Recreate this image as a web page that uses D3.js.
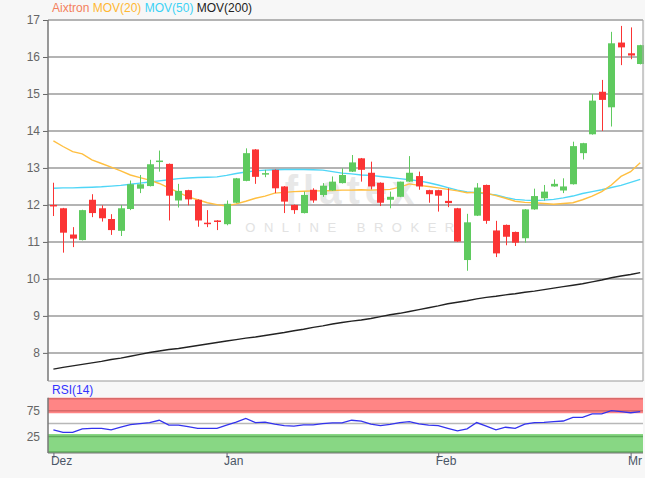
<!DOCTYPE html>
<html><head><meta charset="utf-8">
<script src="https://cdn.jsdelivr.net/npm/d3@7"></script>
<style>
html,body{margin:0;padding:0;background:#f7f7f7;}
svg{display:block;font-family:"Liberation Sans",Arial,sans-serif;}
</style></head>
<body><svg id="c" width="645" height="478"></svg>
<script>
// ---- data ----
const openV  = [12.00,11.91,11.20,11.05,12.14,11.91,11.62,11.30,11.89,12.44,12.51,13.17,13.11,12.12,12.40,12.14,11.52,11.58,11.48,12.06,12.65,13.50,12.83,12.95,12.50,12.00,11.78,12.41,12.27,12.39,12.59,12.90,13.26,12.87,12.60,12.14,12.22,12.63,12.78,12.40,12.40,12.11,11.91,10.51,11.71,12.54,11.31,11.46,11.27,11.10,11.88,12.18,12.50,12.39,12.56,13.40,13.91,15.06,14.64,16.39,16.10,15.81];
const highV  = [12.60,11.92,11.40,11.87,12.29,11.99,11.75,12.00,12.66,12.81,13.22,13.47,13.12,12.57,12.41,12.15,11.86,11.59,12.12,12.73,13.53,13.51,12.95,12.96,12.51,12.01,12.36,12.45,12.59,12.77,12.99,13.35,13.27,13.17,12.61,12.36,12.63,13.32,12.90,12.41,12.41,12.45,11.92,11.76,12.59,12.55,11.57,11.47,11.28,11.89,12.44,12.54,12.69,12.72,13.71,13.68,15.00,15.38,16.68,16.84,16.80,16.33];
const lowV   = [11.70,10.71,10.86,11.04,11.67,11.55,11.19,11.16,11.86,12.32,12.50,12.90,11.58,11.93,11.99,11.41,11.40,11.32,11.45,12.05,12.64,12.57,12.75,12.32,11.78,11.76,11.77,12.06,12.22,12.38,12.58,12.89,12.63,12.42,11.97,11.91,12.21,12.62,12.41,12.06,11.82,11.94,11.00,10.22,11.70,11.49,10.59,10.91,10.89,10.98,11.87,12.12,12.49,12.32,12.55,13.23,13.90,14.00,14.12,15.78,15.94,15.80];
const closeV = [11.98,11.25,11.09,11.86,11.78,11.64,11.32,11.91,12.56,12.56,13.10,13.20,12.25,12.38,12.15,11.58,11.48,11.55,12.03,12.72,13.40,12.76,12.86,12.45,12.09,11.86,12.27,12.12,12.52,12.63,12.81,13.15,12.95,12.50,12.06,12.22,12.63,12.87,12.50,12.29,12.25,12.05,11.01,11.53,12.47,11.57,10.69,11.14,10.98,11.88,12.24,12.36,12.57,12.50,13.59,13.67,14.82,14.84,16.37,16.26,16.04,16.32];
const mov20  = [13.73,13.58,13.44,13.38,13.22,13.12,13.02,12.92,12.81,12.74,12.67,12.58,12.46,12.34,12.22,12.14,12.06,12.01,11.97,12.03,12.10,12.18,12.24,12.32,12.34,12.36,12.37,12.38,12.38,12.39,12.40,12.40,12.41,12.40,12.41,12.42,12.48,12.57,12.53,12.50,12.46,12.42,12.38,12.33,12.34,12.32,12.25,12.18,12.10,12.07,12.06,12.04,12.02,12.04,12.06,12.14,12.24,12.36,12.54,12.77,12.90,13.14];
const mov50  = [12.45,12.46,12.46,12.47,12.48,12.49,12.51,12.53,12.56,12.59,12.62,12.65,12.68,12.71,12.73,12.74,12.75,12.76,12.80,12.85,12.89,12.92,12.94,12.95,12.96,12.96,12.96,12.95,12.94,12.90,12.86,12.84,12.81,12.80,12.77,12.74,12.71,12.68,12.65,12.60,12.54,12.47,12.40,12.35,12.33,12.30,12.27,12.20,12.15,12.13,12.12,12.13,12.15,12.19,12.24,12.31,12.36,12.41,12.47,12.53,12.61,12.69];
const mov200 = [7.56,7.61,7.65,7.69,7.73,7.77,7.82,7.86,7.91,7.96,8.01,8.05,8.09,8.12,8.16,8.20,8.24,8.28,8.32,8.36,8.40,8.43,8.47,8.51,8.55,8.60,8.64,8.69,8.73,8.78,8.82,8.86,8.89,8.93,8.98,9.03,9.07,9.12,9.17,9.22,9.27,9.33,9.37,9.41,9.46,9.50,9.53,9.57,9.60,9.64,9.67,9.71,9.75,9.79,9.83,9.87,9.92,9.97,10.03,10.08,10.12,10.17];
const rsi14  = [37.9,33,33,40,41,41,38,43,48,50,52,56.5,47,47,44,41,41,41,47,53,60,52,53,49,46,45,47.5,47.5,50,51.6,51.6,56.5,55,49,46,48.5,52,54,49.5,47,46,41,36,40,52,45,38,43,41,49,52,52.3,54,55,62,62,68.6,68.6,75,73,71,73];
const monthLabels = ["Dez","Jan","Feb","Mr"];
const monthIndex  = [0,18,40,60];
const yTicks = [8,9,10,11,12,13,14,15,16,17];
const rsiTicks = [25,75];

// ---- layout ----
const svg = d3.select("#c");
const L = 48, R = 643, T = 20, B = 381;
const rT = 397.7, rB = 453;
const n = closeV.length;
const idx = d3.range(n);

const x = d3.scaleBand().domain(idx).range([L + 0.6, L + 0.6 + n * 9.62]).paddingInner(0.27).paddingOuter(0.135);
const cx = i => x(i) + x.bandwidth() / 2;
const y = d3.scaleLinear().domain([7.24, 17]).range([B, T]);
const yr = d3.scaleLinear().domain([-6.7, 100]).range([rB, rT]);

// main plot background
svg.append("rect").attr("x", L).attr("y", T).attr("width", R - L).attr("height", B - T).attr("fill", "#fff");

svg.append("defs").append("clipPath").attr("id", "clipMain")
  .append("rect").attr("x", L).attr("y", T - 1).attr("width", R - L + 2).attr("height", B - T + 1);

// grid lines
svg.append("g").selectAll("line").data(yTicks).join("line")
  .attr("x1", L).attr("x2", R).attr("y1", d => y(d)).attr("y2", d => y(d))
  .attr("stroke", "#b4b4b4").attr("stroke-width", 2);

// y axis
const yAxis = d3.axisLeft(y).tickValues(yTicks).tickSize(5).tickPadding(3);
const ga = svg.append("g").attr("transform", `translate(${L},0)`).call(yAxis);
ga.select(".domain").remove();
ga.selectAll("line").attr("stroke", "#666");
ga.selectAll("text").attr("fill", "#666").attr("font-size", 12).attr("font-family", "Liberation Sans, Arial, sans-serif");

// watermark
const wm = svg.append("g");
wm.append("text").attr("x", 352).attr("y", 204).attr("text-anchor", "middle")
  .attr("font-size", 40).attr("font-weight", "bold").attr("fill", "#e8e8e8").attr("letter-spacing", 5).text("flatex");
wm.append("text").attr("x", 354).attr("y", 232).attr("text-anchor", "middle")
  .attr("font-size", 13).attr("fill", "#e2e2e2").attr("letter-spacing", 8.5).text("ONLINE BROKER");

const plot = svg.append("g").attr("clip-path", "url(#clipMain)");

// moving averages
const line = arr => d3.line().x((d, i) => cx(i)).y(d => y(d)).curve(d3.curveLinear)(arr);
plot.append("path").attr("d", line(mov200)).attr("fill", "none").attr("stroke", "#222").attr("stroke-width", 1.4);
plot.append("path").attr("d", line(mov50)).attr("fill", "none").attr("stroke", "#4fd6f7").attr("stroke-width", 1.4);
plot.append("path").attr("d", line(mov20)).attr("fill", "none").attr("stroke", "#ffbf40").attr("stroke-width", 1.4);

// candles
const up = i => closeV[i] >= openV[i];
const colUp = "#5fca5f", colDn = "#fb3434";
const cg = plot.append("g");
cg.selectAll("line").data(idx).join("line")
  .attr("x1", i => Math.round(cx(i)) + 0.5).attr("x2", i => Math.round(cx(i)) + 0.5)
  .attr("y1", i => y(highV[i])).attr("y2", i => y(lowV[i]))
  .attr("stroke", i => up(i) ? colUp : colDn).attr("stroke-width", 1);
cg.selectAll("rect").data(idx).join("rect")
  .attr("x", i => Math.round(cx(i)) + 0.5 - 3.5).attr("width", 7)
  .attr("y", i => y(Math.max(openV[i], closeV[i])))
  .attr("height", i => Math.max(1.5, Math.abs(y(openV[i]) - y(closeV[i]))))
  .attr("fill", i => up(i) ? colUp : colDn);

// frame of main plot
svg.append("line").attr("x1", L).attr("x2", L).attr("y1", T).attr("y2", B).attr("stroke", "#777").attr("stroke-width", 1.5);
svg.append("line").attr("x1", L).attr("x2", R).attr("y1", B).attr("y2", B).attr("stroke", "#999").attr("stroke-width", 1.2);
svg.append("line").attr("x1", R).attr("x2", R).attr("y1", T).attr("y2", B).attr("stroke", "#aaa").attr("stroke-width", 1.2);

// legend
const lg = svg.append("text").attr("x", 52).attr("y", 12).attr("font-size", 12);
lg.append("tspan").attr("fill", "#f4805c").text("Aixtron ");
lg.append("tspan").attr("fill", "#ffb833").text("MOV(20) ");
lg.append("tspan").attr("fill", "#3cd2f5").text("MOV(50) ");
lg.append("tspan").attr("fill", "#222").text("MOV(200)");

// ---- RSI panel ----
svg.append("rect").attr("x", L).attr("y", rT).attr("width", R - L).attr("height", rB - rT).attr("fill", "#fff");
svg.append("rect").attr("x", L).attr("y", yr(100)).attr("width", R - L).attr("height", yr(70) - yr(100)).attr("fill", "#ff8585");
svg.append("rect").attr("x", L).attr("y", yr(30)).attr("width", R - L).attr("height", yr(-6.7) - yr(30)).attr("fill", "#88d784");
svg.append("line").attr("x1", L).attr("x2", R).attr("y1", yr(100) + 1).attr("y2", yr(100) + 1).attr("stroke", "#d86a6a").attr("stroke-width", 1.5);
svg.append("line").attr("x1", L).attr("x2", R).attr("y1", yr(75)).attr("y2", yr(75)).attr("stroke", "#d86a6a").attr("stroke-width", 1.5);
svg.append("line").attr("x1", L).attr("x2", R).attr("y1", yr(50)).attr("y2", yr(50)).attr("stroke", "#b8b8b8").attr("stroke-width", 1.5);
svg.append("line").attr("x1", L).attr("x2", R).attr("y1", yr(25)).attr("y2", yr(25)).attr("stroke", "#5eac5a").attr("stroke-width", 1.5);
svg.append("line").attr("x1", L).attr("x2", R).attr("y1", yr(-6.7) - 1).attr("y2", yr(-6.7) - 1).attr("stroke", "#5eac5a").attr("stroke-width", 1.5);

const rsiLine = d3.line().x((d, i) => cx(i)).y(d => yr(d));
svg.append("path").attr("d", rsiLine(rsi14)).attr("fill", "none").attr("stroke", "#3333ee").attr("stroke-width", 1.3);

const ra = svg.append("g").attr("transform", `translate(${L},0)`).call(d3.axisLeft(yr).tickValues(rsiTicks).tickSize(0).tickPadding(8));
ra.select(".domain").remove();
ra.selectAll("text").attr("fill", "#666").attr("font-size", 12).attr("font-family", "Liberation Sans, Arial, sans-serif");

svg.append("line").attr("x1", L).attr("x2", L).attr("y1", rT).attr("y2", rB).attr("stroke", "#777").attr("stroke-width", 1.5);
svg.append("line").attr("x1", L).attr("x2", R).attr("y1", rB).attr("y2", rB).attr("stroke", "#777").attr("stroke-width", 1.2);

svg.append("text").attr("x", 52).attr("y", 394).attr("font-size", 12).attr("fill", "#3333ff").text("RSI(14)");

// x axis
const xs = d3.scaleLinear().domain([0, n - 1]).range([cx(0), cx(n - 1)]);
const xa = svg.append("g").attr("transform", `translate(0,${rB})`)
  .call(d3.axisBottom(xs).tickValues(monthIndex).tickSize(5).tickFormat((d, k) => monthLabels[k]));
xa.select(".domain").remove();
xa.selectAll("line").attr("stroke", "#667");
xa.selectAll("text").attr("fill", "#4a5666").attr("font-size", 12).attr("text-anchor", "start").attr("dx", -3).attr("dy", 4)
  .attr("font-family", "Liberation Sans, Arial, sans-serif");
</script>
</body></html>
